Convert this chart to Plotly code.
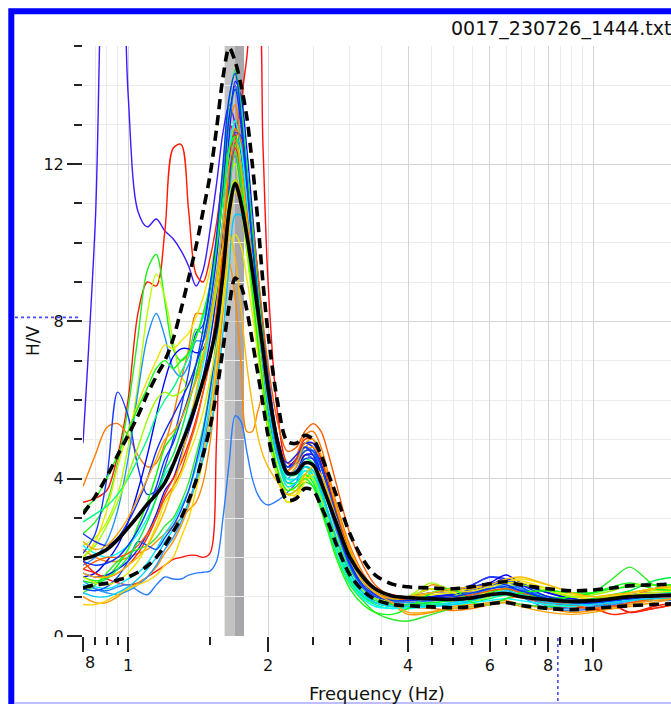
import math
import plotly.graph_objects as go

# Frequency sampling (Hz) shared by all H/V curves
FREQ = [0.80, 0.85, 0.90, 0.95, 1.00, 1.05, 1.10, 1.15, 1.20, 1.25, 1.30, 1.35, 1.40, 1.45,
        1.50, 1.55, 1.60, 1.65, 1.70, 1.75, 1.80, 1.85, 1.90, 1.95, 2.00, 2.10,
        2.20, 2.30, 2.40, 2.50, 2.60, 2.70, 2.80, 3.00, 3.20, 3.40, 3.70,
        4.00, 4.50, 5.00, 5.50, 6.00, 6.50, 7.00, 8.00, 9.00, 10.0, 11.0, 12.0, 13.5, 15.0]

# H/V ratio of each time window
W01 = [4.9, 10.5, 19.0, 20.0, 13.8, 10.8, 10.4, 10.6, 10.3, 10.1, 9.8, 9.4, 8.9, 9.3,
       10.3, 11.5, 12.8, 13.5, 13.0, 11.8, 10.4, 9.1, 7.9, 6.8, 5.8, 4.7,
       4.3, 4.5, 4.9, 4.8, 4.3, 3.7, 3.1, 2.1, 1.5, 1.15, 1.0,
       1.0, 1.1, 1.15, 1.3, 1.5, 1.4, 1.2, 1.0, 0.9, 0.95, 1.0, 1.05, 1.1, 1.1]
W02 = [3.4, 3.5, 3.7, 4.6, 6.0, 8.2, 9.0, 8.9, 10.3, 12.4, 12.5, 10.8, 9.2, 9.0,
       9.6, 10.5, 11.8, 13.0, 12.7, 11.4, 10.0, 8.7, 7.6, 6.6, 5.7, 4.6,
       4.2, 4.4, 4.8, 4.7, 4.1, 3.5, 2.9, 1.95, 1.4, 1.1, 1.0,
       0.95, 0.9, 0.95, 1.0, 1.1, 1.1, 1.0, 0.8, 0.7, 0.75, 0.8, 0.6, 0.75, 0.85]
W03 = [1.7, 1.6, 1.45, 1.35, 1.3, 1.35, 1.5, 1.65, 1.8, 1.95, 2.0, 2.05, 2.05, 2.0,
       2.1, 5.0, 10.5, 11.6, 12.6, 13.6, 14.7, 16.0, 16.2, 12.5, 9.0, 5.6,
       4.4, 4.4, 4.6, 4.5, 4.0, 3.5, 3.0, 2.1, 1.5, 1.2, 1.05,
       1.0, 1.2, 1.1, 1.0, 1.05, 1.1, 1.05, 0.9, 0.8, 0.85, 0.8, 0.6, 0.7, 0.8]
W04 = [1.3, 1.2, 1.15, 1.25, 1.3, 1.15, 1.05, 1.3, 1.5, 1.45, 1.45, 1.55, 1.6, 1.62,
       1.65, 1.9, 3.0, 4.4, 5.6, 5.45, 4.7, 4.0, 3.6, 3.4, 3.33, 3.45,
       3.65, 3.9, 4.6, 4.5, 4.0, 3.4, 2.8, 1.9, 1.35, 1.1, 1.0,
       0.95, 0.95, 1.05, 1.2, 1.35, 1.2, 1.0, 0.7, 0.65, 0.7, 0.8, 0.85, 0.9, 0.9]
W05 = [2.2, 2.0, 1.9, 1.9, 2.0, 2.1, 2.2, 2.4, 2.6, 2.8, 3.0, 3.2, 3.4, 3.9,
       4.9, 6.4, 8.2, 9.5, 8.6, 6.9, 5.2, 5.2, 5.7, 6.1, 5.7, 4.7,
       4.3, 4.4, 4.8, 4.9, 4.5, 3.9, 3.2, 2.1, 1.5, 1.2, 1.0,
       0.9, 1.3, 1.15, 0.95, 1.0, 1.2, 1.1, 0.9, 0.8, 0.85, 0.7, 0.8, 0.95, 1.0]
W06 = [2.6, 2.9, 3.4, 4.4, 5.8, 7.6, 9.3, 9.7, 8.5, 7.3, 7.0, 7.2, 7.8, 7.7,
       8.2, 9.0, 10.5, 11.9, 12.5, 11.8, 10.6, 9.3, 8.0, 6.9, 5.9, 4.6,
       4.0, 4.0, 4.3, 4.2, 3.7, 3.1, 2.6, 1.7, 1.2, 0.95, 0.8,
       0.95, 1.0, 1.05, 1.1, 1.15, 1.2, 1.15, 1.0, 0.95, 1.1, 1.45, 1.75, 1.3, 1.15]
W07 = [2.3, 2.5, 2.9, 3.6, 4.8, 6.4, 8.2, 9.2, 8.6, 7.5, 6.6, 6.4, 6.9, 7.0,
       7.6, 8.6, 10.3, 11.6, 12.0, 11.0, 9.8, 8.6, 7.5, 6.5, 5.6, 4.4,
       3.8, 3.7, 4.0, 4.0, 3.6, 3.1, 2.6, 1.8, 1.3, 1.05, 0.95,
       1.0, 1.2, 1.1, 1.0, 1.15, 1.35, 1.3, 1.1, 1.0, 0.95, 1.0, 1.1, 1.15, 1.2]
W08 = [3.8, 4.6, 5.3, 5.4, 5.1, 4.6, 4.3, 4.4, 4.9, 5.6, 6.5, 7.3, 8.2, 8.2,
       8.9, 9.9, 11.6, 13.0, 13.5, 12.5, 11.1, 9.8, 8.5, 7.3, 6.3, 5.0,
       4.4, 4.6, 5.1, 5.2, 4.8, 4.1, 3.4, 2.3, 1.6, 1.2, 0.9,
       0.75, 0.7, 0.65, 0.7, 0.8, 0.95, 1.0, 0.9, 0.75, 0.7, 0.85, 1.0, 1.2, 1.3]
W09 = [2.1, 2.6, 4.0, 6.2, 5.6, 4.3, 3.6, 3.7, 4.3, 5.0, 5.8, 6.7, 7.7, 7.9,
       8.8, 9.9, 11.6, 13.2, 14.0, 13.0, 11.4, 9.8, 8.4, 7.2, 6.2, 4.8,
       4.3, 4.5, 4.9, 4.8, 4.3, 3.7, 3.1, 2.1, 1.5, 1.15, 1.0,
       0.95, 1.0, 1.1, 1.3, 1.5, 1.45, 1.3, 1.1, 0.95, 0.9, 0.95, 1.0, 1.05, 1.05]
W10 = [1.8, 2.0, 2.4, 3.2, 4.5, 6.2, 7.6, 8.2, 7.6, 6.8, 6.6, 6.9, 7.5, 7.5,
       8.2, 9.2, 10.6, 11.8, 12.2, 11.3, 10.0, 8.8, 7.6, 6.6, 5.7, 4.5,
       4.0, 4.3, 4.8, 4.7, 4.1, 3.4, 2.8, 1.85, 1.3, 1.05, 0.9,
       0.85, 0.8, 0.85, 1.0, 1.2, 1.3, 1.2, 1.0, 0.85, 0.8, 0.85, 0.9, 0.95, 1.0]
W11 = [1.5, 1.6, 1.9, 2.3, 2.9, 3.7, 4.6, 5.6, 6.5, 7.1, 7.3, 7.3, 7.2, 7.3,
       7.9, 8.9, 10.5, 12.1, 12.9, 12.3, 11.0, 9.6, 8.2, 7.0, 6.0, 4.7,
       4.1, 4.2, 4.6, 4.6, 4.1, 3.5, 2.9, 1.95, 1.4, 1.1, 0.95,
       0.95, 1.0, 1.05, 1.2, 1.35, 1.55, 1.35, 1.1, 0.95, 0.9, 0.9, 0.95, 1.0, 1.0]
W12 = [2.0, 2.4, 3.2, 4.3, 5.2, 5.9, 6.5, 7.0, 7.4, 7.3, 7.5, 7.7, 8.1, 8.6,
       9.3, 10.1, 11.3, 12.5, 12.9, 11.9, 10.4, 9.0, 7.7, 6.5, 5.5, 4.2,
       3.6, 3.6, 4.0, 4.2, 4.0, 3.5, 2.9, 1.95, 1.35, 1.05, 0.9,
       0.9, 0.95, 1.0, 1.1, 1.25, 1.4, 1.45, 1.3, 1.1, 1.0, 1.05, 1.1, 1.2, 1.2]
W13 = [1.5, 1.4, 1.5, 1.8, 2.2, 2.8, 3.4, 4.1, 4.8, 5.1, 5.5, 6.0, 6.5, 7.1,
       8.0, 9.1, 10.6, 12.4, 13.1, 12.4, 11.2, 9.8, 8.4, 7.2, 6.1, 4.7,
       3.9, 3.9, 4.1, 3.9, 3.3, 2.7, 2.2, 1.4, 1.0, 0.85, 0.75,
       0.8, 0.85, 0.8, 0.9, 1.1, 1.2, 1.1, 0.95, 1.0, 1.1, 1.25, 1.35, 1.2, 1.15]
W14 = [1.3, 1.25, 1.2, 1.3, 1.45, 1.6, 1.85, 2.2, 2.6, 2.9, 3.3, 3.7, 4.3, 5.0,
       5.9, 7.2, 9.1, 11.2, 12.4, 12.0, 11.0, 9.7, 8.4, 7.2, 6.1, 4.5,
       3.8, 3.9, 4.2, 4.1, 3.6, 3.0, 2.4, 1.5, 1.05, 0.85, 0.75,
       0.75, 0.8, 0.85, 0.9, 1.0, 1.05, 1.0, 0.85, 0.8, 0.85, 0.9, 0.95, 1.0, 1.0]
W15 = [1.6, 1.5, 1.55, 1.7, 1.9, 2.2, 2.6, 3.1, 3.7, 4.0, 4.6, 5.2, 5.8, 6.6,
       7.5, 8.7, 10.5, 12.7, 14.1, 13.7, 12.4, 10.8, 9.2, 7.8, 6.6, 5.0,
       4.3, 4.5, 4.9, 4.9, 4.4, 3.8, 3.2, 2.1, 1.45, 1.1, 0.95,
       0.95, 1.0, 1.05, 1.15, 1.3, 1.45, 1.3, 1.0, 0.9, 0.9, 0.95, 1.0, 1.0, 1.0]
W16 = [1.0, 0.85, 0.85, 1.0, 1.2, 1.35, 1.5, 1.75, 2.1, 2.4, 2.8, 3.3, 3.9, 4.6,
       5.5, 6.7, 8.4, 10.4, 11.6, 11.3, 10.4, 9.3, 8.2, 7.1, 6.1, 4.7,
       4.1, 4.3, 4.7, 4.8, 4.5, 3.9, 3.3, 2.2, 1.5, 1.1, 0.8,
       0.55, 0.6, 0.75, 0.8, 0.85, 0.9, 0.8, 0.7, 0.6, 0.65, 0.7, 0.75, 0.85, 0.95]
W17 = [1.4, 1.2, 1.1, 1.05, 1.15, 1.3, 1.5, 1.8, 2.2, 2.5, 2.9, 3.4, 4.0, 4.8,
       5.7, 7.1, 9.0, 11.2, 12.6, 12.4, 11.4, 10.1, 8.8, 7.5, 6.4, 4.8,
       4.2, 4.5, 4.8, 4.6, 4.0, 3.3, 2.7, 1.75, 1.2, 0.95, 0.85,
       0.85, 0.9, 0.95, 1.05, 1.2, 1.25, 1.1, 0.75, 0.7, 0.75, 0.8, 0.9, 0.95, 1.0]
W18 = [2.9, 3.1, 3.3, 3.6, 4.0, 4.5, 5.0, 5.6, 6.0, 6.3, 6.7, 7.1, 7.6, 8.1,
       8.9, 9.9, 11.4, 13.1, 13.9, 13.1, 11.7, 10.2, 8.8, 7.5, 6.4, 4.9,
       4.1, 4.1, 4.3, 4.1, 3.5, 2.9, 2.3, 1.45, 1.0, 0.8, 0.7,
       0.75, 0.8, 0.8, 0.85, 0.95, 1.05, 1.0, 0.9, 0.85, 0.9, 0.95, 1.0, 1.1, 1.1]
W19 = [0.8, 0.8, 0.9, 1.05, 1.2, 1.3, 1.4, 1.55, 1.8, 2.0, 2.5, 3.0, 3.7, 4.5,
       5.6, 7.0, 8.6, 10.4, 11.3, 10.9, 10.0, 8.9, 7.7, 6.5, 5.4, 4.0,
       3.4, 3.6, 4.1, 4.3, 4.1, 3.6, 3.0, 2.0, 1.4, 1.1, 0.95,
       1.0, 1.1, 1.15, 1.2, 1.3, 1.4, 1.4, 1.2, 1.0, 0.95, 1.0, 1.1, 1.2, 1.25]
W20 = [1.9, 1.6, 1.5, 1.6, 1.8, 2.1, 2.5, 3.0, 3.6, 4.0, 4.4, 4.9, 5.5, 6.2,
       7.0, 8.1, 9.7, 11.5, 12.4, 11.9, 10.8, 9.6, 8.4, 7.3, 6.2, 4.8,
       4.2, 4.5, 5.0, 5.0, 4.5, 3.9, 3.2, 2.1, 1.45, 1.1, 0.95,
       0.95, 0.95, 0.9, 0.95, 1.05, 1.1, 1.0, 0.85, 0.75, 0.7, 0.55, 0.6, 0.7, 0.8]
W21 = [1.1, 1.3, 1.6, 1.9, 2.1, 2.2, 2.3, 2.5, 2.8, 3.0, 3.4, 3.9, 4.6, 5.3,
       6.3, 7.6, 9.3, 11.3, 12.3, 11.5, 10.2, 8.7, 7.3, 6.1, 5.2, 4.0,
       3.6, 3.7, 3.9, 3.8, 3.3, 2.7, 2.1, 1.3, 0.9, 0.6, 0.42,
       0.38, 0.55, 0.7, 0.75, 0.8, 0.85, 0.8, 0.75, 0.8, 0.85, 0.9, 0.95, 1.0, 1.0]
W22 = [2.3, 2.1, 2.0, 2.1, 2.3, 2.6, 3.0, 3.5, 4.1, 4.4, 4.9, 5.5, 6.1, 6.9,
       7.8, 9.0, 10.6, 12.4, 13.1, 12.4, 11.2, 9.8, 8.5, 7.3, 6.2, 4.7,
       4.0, 4.0, 4.2, 4.0, 3.4, 2.8, 2.2, 1.35, 0.95, 0.75, 0.7,
       0.7, 0.75, 0.8, 0.85, 0.9, 0.95, 0.9, 0.8, 0.75, 0.8, 0.85, 0.9, 0.95, 0.95]
W23 = [1.2, 1.15, 1.25, 1.5, 1.9, 2.4, 2.3, 2.2, 2.5, 2.8, 3.2, 3.7, 4.4, 5.2,
       6.2, 7.5, 9.2, 11.4, 12.8, 12.7, 11.8, 10.6, 9.2, 7.9, 6.7, 5.0,
       4.3, 4.4, 4.7, 4.7, 4.3, 3.7, 3.1, 2.0, 1.4, 1.05, 0.9,
       0.9, 0.9, 0.95, 1.05, 1.25, 1.4, 1.25, 0.9, 0.8, 0.85, 0.9, 0.95, 1.0, 1.0]
W24 = [2.0, 2.3, 2.8, 3.4, 4.1, 4.8, 5.5, 6.0, 6.2, 6.1, 6.2, 6.4, 6.7, 7.2,
       7.9, 8.8, 9.9, 11.2, 11.6, 10.9, 9.8, 8.6, 7.4, 6.4, 5.5, 4.2,
       3.7, 3.8, 4.1, 4.0, 3.5, 2.9, 2.4, 1.6, 1.15, 0.95, 0.9,
       1.0, 1.35, 1.1, 0.9, 1.0, 1.25, 1.3, 1.15, 1.0, 1.05, 1.15, 1.3, 1.3, 1.25]
W25 = [1.7, 1.9, 2.0, 2.0, 2.1, 2.3, 2.6, 3.0, 3.5, 3.8, 4.2, 4.8, 5.4, 6.2,
       7.1, 8.3, 9.9, 11.9, 12.9, 12.6, 11.7, 10.5, 9.3, 8.0, 6.9, 5.4,
       4.7, 4.8, 5.2, 5.4, 5.2, 4.6, 3.9, 2.6, 1.8, 1.3, 1.0,
       0.9, 0.95, 1.0, 1.05, 1.15, 1.2, 1.1, 0.9, 0.8, 0.7, 0.75, 0.85, 0.95, 1.0]
W26 = [1.4, 1.35, 1.45, 1.7, 2.0, 2.4, 2.9, 3.5, 4.2, 4.6, 5.2, 5.9, 6.6, 7.5,
       8.5, 9.9, 11.6, 13.6, 14.4, 13.5, 12.0, 10.4, 8.9, 7.6, 6.4, 4.8,
       4.1, 4.2, 4.5, 4.4, 3.8, 3.1, 2.5, 1.6, 1.1, 0.9, 0.8,
       0.8, 0.85, 0.9, 0.95, 1.05, 1.1, 1.05, 0.95, 0.9, 0.95, 1.05, 1.15, 1.4, 1.5]
W27 = [2.6, 2.4, 2.3, 2.5, 2.9, 3.4, 4.0, 4.7, 5.2, 5.6, 6.0, 6.4, 6.9, 7.5,
       8.4, 9.6, 11.3, 13.2, 13.9, 13.0, 11.5, 10.0, 8.6, 7.3, 6.2, 4.8,
       4.4, 4.6, 4.8, 4.6, 4.0, 3.4, 2.8, 1.85, 1.3, 1.05, 0.95,
       1.0, 1.1, 1.2, 1.25, 1.35, 1.3, 1.15, 0.95, 0.85, 0.85, 0.9, 0.95, 1.0, 1.0]
W28 = [1.5, 1.35, 1.3, 1.4, 1.6, 1.9, 2.3, 2.8, 3.4, 3.7, 4.1, 4.6, 5.1, 5.7,
       6.5, 7.4, 8.4, 9.6, 10.2, 9.9, 9.1, 8.2, 7.2, 6.2, 5.3, 4.0,
       3.4, 3.5, 3.9, 4.1, 3.9, 3.5, 3.0, 2.1, 1.5, 1.15, 1.0,
       1.0, 1.05, 1.1, 1.15, 1.25, 1.35, 1.35, 1.2, 1.05, 1.0, 1.0, 1.05, 1.1, 1.15]
W29 = [1.1, 1.0, 1.0, 1.1, 1.25, 1.45, 1.7, 2.0, 2.4, 2.7, 3.0, 3.4, 3.9, 4.5,
       5.2, 6.3, 7.7, 9.4, 10.7, 10.7, 10.1, 9.1, 8.0, 6.9, 5.9, 4.5,
       3.9, 4.0, 4.3, 4.2, 3.7, 3.1, 2.5, 1.6, 1.1, 0.85, 0.75,
       0.75, 0.75, 0.8, 0.9, 1.05, 1.15, 1.05, 0.85, 0.8, 0.8, 0.85, 0.9, 0.95, 0.95]
W30 = [3.2, 3.5, 4.0, 4.6, 5.2, 5.8, 6.3, 6.8, 7.0, 6.8, 7.0, 7.2, 7.6, 8.2,
       8.9, 9.9, 11.1, 12.4, 12.7, 11.7, 10.2, 8.8, 7.5, 6.4, 5.5, 4.2,
       3.7, 3.8, 4.0, 3.8, 3.2, 2.6, 2.0, 1.2, 0.8, 0.6, 0.55,
       0.7, 1.1, 1.2, 0.85, 0.8, 0.95, 1.1, 1.15, 1.1, 1.1, 1.2, 1.25, 1.3, 1.3]
W31 = [1.9, 1.8, 1.85, 2.0, 2.3, 2.7, 3.2, 3.8, 4.5, 4.9, 5.5, 6.1, 6.9, 7.8,
       8.9, 10.2, 12.0, 13.7, 14.3, 13.2, 11.6, 10.0, 8.6, 7.3, 6.2, 4.7,
       4.1, 4.2, 4.5, 4.5, 4.0, 3.4, 2.8, 1.8, 1.25, 1.0, 0.9,
       0.9, 0.95, 1.0, 1.1, 1.2, 1.25, 1.15, 0.95, 0.85, 0.85, 0.9, 0.95, 1.0, 1.05]
W32 = [2.4, 2.2, 2.3, 2.6, 3.0, 3.5, 4.0, 4.5, 5.0, 5.2, 5.5, 6.0, 6.5, 7.1,
       8.0, 9.1, 10.5, 12.0, 12.6, 11.9, 10.7, 9.5, 8.3, 7.2, 6.2, 4.8,
       4.2, 4.4, 4.9, 5.0, 4.6, 4.0, 3.3, 2.2, 1.5, 1.1, 0.85,
       0.6, 0.62, 0.7, 0.75, 0.8, 0.85, 0.75, 0.6, 0.55, 0.6, 0.7, 0.8, 0.9, 0.95]
W33 = [1.6, 1.5, 1.5, 1.6, 1.8, 2.0, 2.3, 2.7, 3.2, 3.8, 4.5, 5.3, 6.2, 7.1,
       8.0, 9.0, 9.9, 10.2, 9.6, 8.3, 6.9, 5.9, 5.1, 4.6, 4.3, 3.9,
       3.6, 3.7, 4.1, 4.3, 4.1, 3.6, 3.0, 2.0, 1.4, 1.1, 0.95,
       1.0, 1.1, 1.2, 1.25, 1.3, 1.45, 1.5, 1.3, 1.1, 1.0, 1.05, 1.1, 1.2, 1.25]

# Average H/V and its standard-deviation envelope
HV_MEAN = [1.95, 2.05, 2.2, 2.45, 2.75, 3.05, 3.35, 3.6, 3.9, 4.35, 4.85, 5.35, 5.9, 6.5,
           7.1, 7.9, 9.2, 10.8, 11.5, 11.0, 10.2, 9.3, 8.3, 7.3, 6.3, 4.9,
           4.15, 4.15, 4.4, 4.35, 3.9, 3.4, 2.9, 2.0, 1.5, 1.2, 1.02,
           0.98, 0.95, 0.93, 0.97, 1.05, 1.08, 1.0, 0.92, 0.88, 0.9, 0.95, 1.0, 1.02, 1.05]
HV_UPPER = [3.1, 3.55, 4.05, 4.6, 5.1, 5.6, 6.15, 6.6, 7.0, 7.55, 8.3, 9.1, 9.9, 10.8,
            11.7, 12.9, 14.2, 14.95, 14.6, 14.0, 13.2, 12.0, 10.6, 9.0, 7.7, 5.9,
            4.95, 4.9, 5.1, 5.0, 4.6, 4.1, 3.6, 2.6, 1.95, 1.55, 1.32,
            1.25, 1.22, 1.2, 1.25, 1.33, 1.38, 1.3, 1.2, 1.15, 1.17, 1.22, 1.28, 1.3, 1.33]
HV_LOWER = [1.22, 1.3, 1.34, 1.42, 1.5, 1.62, 1.78, 2.0, 2.3, 2.65, 3.0, 3.45, 3.95, 4.6,
            5.3, 6.2, 7.3, 8.4, 9.1, 8.9, 8.3, 7.5, 6.7, 5.9, 5.1, 4.0,
            3.45, 3.5, 3.75, 3.7, 3.3, 2.85, 2.35, 1.55, 1.15, 0.93, 0.8,
            0.77, 0.74, 0.72, 0.75, 0.82, 0.85, 0.78, 0.7, 0.67, 0.7, 0.74, 0.77, 0.8, 0.82]

# Peak frequency band: f0/sigma, f0, f0*sigma
PEAK_BAND = [1.613, 1.694, 1.776]

# Cursor read-out position
CURSOR_F = 8.4
CURSOR_HV = 8.1

X_TICKS = [0.8, 1, 2, 4, 6, 8, 10]
X_TICK_TEXT = ["", "1", "2", "4", "6", "8", "10"]
X_MINOR = [0.85, 0.9, 0.95, 1.5, 2.5, 3, 3.5, 4.5, 5, 5.5, 6.5, 7, 7.5, 8.5, 9, 9.5]
Y_TICKS = [0, 4, 8, 12]
Y_MINOR = [1, 2, 3, 5, 6, 7, 9, 10, 11, 13, 14, 15]

WINDOWS = [W01, W02, W03, W04, W05, W06, W07, W08, W09, W10, W11, W12, W13, W14, W15, W16,
           W17, W18, W19, W20, W21, W22, W23, W24, W25, W26, W27, W28, W29, W30, W31, W32, W33]
COLORS = ["#3a1cff", "#ff1a00", "#ff1010", "#2a7cff", "#ff8a00", "#22ee22", "#b6ff00", "#ff7a00",
          "#1c3cff", "#1e90ff", "#0000ff", "#f2e400", "#00ff00", "#00e4ff", "#0a14ff", "#ff9400",
          "#2896ff", "#00ff80", "#ffd400", "#ff2a00", "#2ee82e", "#00ffff", "#0050ff", "#9cff00",
          "#ff5a00", "#00ee44", "#1028ff", "#e8e800", "#00ccff", "#10ff10", "#0038ff", "#ffa400",
          "#ffb800"]

for w in WINDOWS + [HV_MEAN, HV_UPPER, HV_LOWER]:
    assert len(w) == len(FREQ), len(w)

W, H = 671, 704
ML, MR, MT, MB = 83, 0, 46, 68
PW, PH = W - ML - MR, H - MT - MB
X0 = math.log10(0.8)
X1 = X0 + PW / 465.0


def px_x(p):
    return (p - ML) / PW


def px_y(p):
    return (H - MB - p) / PH


fig = go.Figure()

for vals, col in zip(WINDOWS, COLORS):
    fig.add_trace(go.Scatter(x=FREQ, y=vals, mode="lines", hoverinfo="skip",
                             line=dict(color=col, width=1.4, shape="spline", smoothing=0.9)))

for series, dash in [(HV_LOWER, "10px,6px"), (HV_UPPER, "10px,6px"), (HV_MEAN, "solid")]:
    fig.add_trace(go.Scatter(x=FREQ, y=series, mode="lines", hoverinfo="skip",
                             line=dict(color="#000000", width=3.6, dash=dash,
                                       shape="spline", smoothing=0.9)))

shapes = [
    dict(type="rect", xref="x", yref="paper", x0=PEAK_BAND[0], x1=PEAK_BAND[1], y0=0, y1=1,
         fillcolor="#c3c3c3", line=dict(width=0), layer="between"),
    dict(type="rect", xref="x", yref="paper", x0=PEAK_BAND[1], x1=PEAK_BAND[2], y0=0, y1=1,
         fillcolor="#a7a7ab", line=dict(width=0), layer="between"),
    # lower half of the "0" label is hidden by the axis strip
    dict(type="rect", xref="paper", yref="paper", x0=px_x(48), x1=px_x(66),
         y0=px_y(650), y1=px_y(637.2), fillcolor="white", line=dict(width=0), layer="above"),
    # window frame
    dict(type="rect", xref="paper", yref="paper", x0=px_x(11.3), x1=px_x(720),
         y0=px_y(708), y1=px_y(11.3), line=dict(color="#0000ff", width=6),
         fillcolor="rgba(0,0,0,0)", layer="above"),
    dict(type="line", xref="paper", yref="paper", x0=px_x(14), x1=px_x(720),
         y0=px_y(703), y1=px_y(703), line=dict(color="#a8a8ff", width=1.5), layer="above"),
    # cursor markers on the axes
    dict(type="line", xref="paper", yref="y", x0=px_x(15), x1=px_x(81),
         y0=CURSOR_HV, y1=CURSOR_HV, line=dict(color="#4848ff", width=1.6, dash="dot"),
         layer="above"),
    dict(type="line", xref="x", yref="paper", x0=CURSOR_F, x1=CURSOR_F,
         y0=px_y(638), y1=px_y(704), line=dict(color="#4848ff", width=1.6, dash="dot"),
         layer="above"),
]

FONT = "DejaVu Sans"
annotations = [
    dict(text="0017_230726_1444.txt", xref="paper", yref="paper", x=px_x(449), y=px_y(28),
         xanchor="left", yanchor="middle", showarrow=False,
         font=dict(family=FONT, size=19, color="#111111")),
    dict(text="H/V", xref="paper", yref="paper", x=px_x(33), y=0.5, textangle=-90,
         xanchor="center", yanchor="middle", showarrow=False,
         font=dict(family=FONT, size=17, color="#111111")),
    dict(text="Frequency (Hz)", xref="paper", yref="paper", x=0.5, y=px_y(693),
         xanchor="center", yanchor="middle", showarrow=False,
         font=dict(family=FONT, size=18, color="#111111")),
    dict(text="8", xref="paper", yref="paper", x=px_x(90), y=px_y(662),
         xanchor="center", yanchor="middle", showarrow=False,
         font=dict(family=FONT, size=16, color="#111111")),
]

fig.update_layout(
    width=W, height=H, margin=dict(l=ML, r=MR, t=MT, b=MB),
    paper_bgcolor="white", plot_bgcolor="white", showlegend=False,
    shapes=shapes, annotations=annotations, hovermode=False,
    font=dict(family=FONT, size=16, color="#111111"),
)
fig.update_xaxes(
    type="log", range=[X0, X1], tickmode="array", tickvals=X_TICKS, ticktext=X_TICK_TEXT,
    ticks="outside", ticklen=15, tickwidth=1.5, tickcolor="#222222",
    showgrid=True, gridcolor="#d4d4d4", gridwidth=1, zeroline=False, showline=False,
    tickfont=dict(family=FONT, size=16, color="#111111"),
    minor=dict(tickmode="array", tickvals=X_MINOR, ticks="outside", ticklen=8,
               tickwidth=1.5, tickcolor="#222222", showgrid=True, gridcolor="#ebebeb"),
)
fig.update_yaxes(
    range=[0, 15], tickmode="array", tickvals=Y_TICKS,
    ticks="outside", ticklen=15, tickwidth=1.5, tickcolor="#222222",
    showgrid=True, gridcolor="#d4d4d4", gridwidth=1, zeroline=False, showline=False,
    tickfont=dict(family=FONT, size=16, color="#111111"),
    minor=dict(tickmode="array", tickvals=Y_MINOR, ticks="outside", ticklen=8,
               tickwidth=1.5, tickcolor="#222222", showgrid=True, gridcolor="#ebebeb"),
)

fig.write_html("out.html", config={"displayModeBar": False})
